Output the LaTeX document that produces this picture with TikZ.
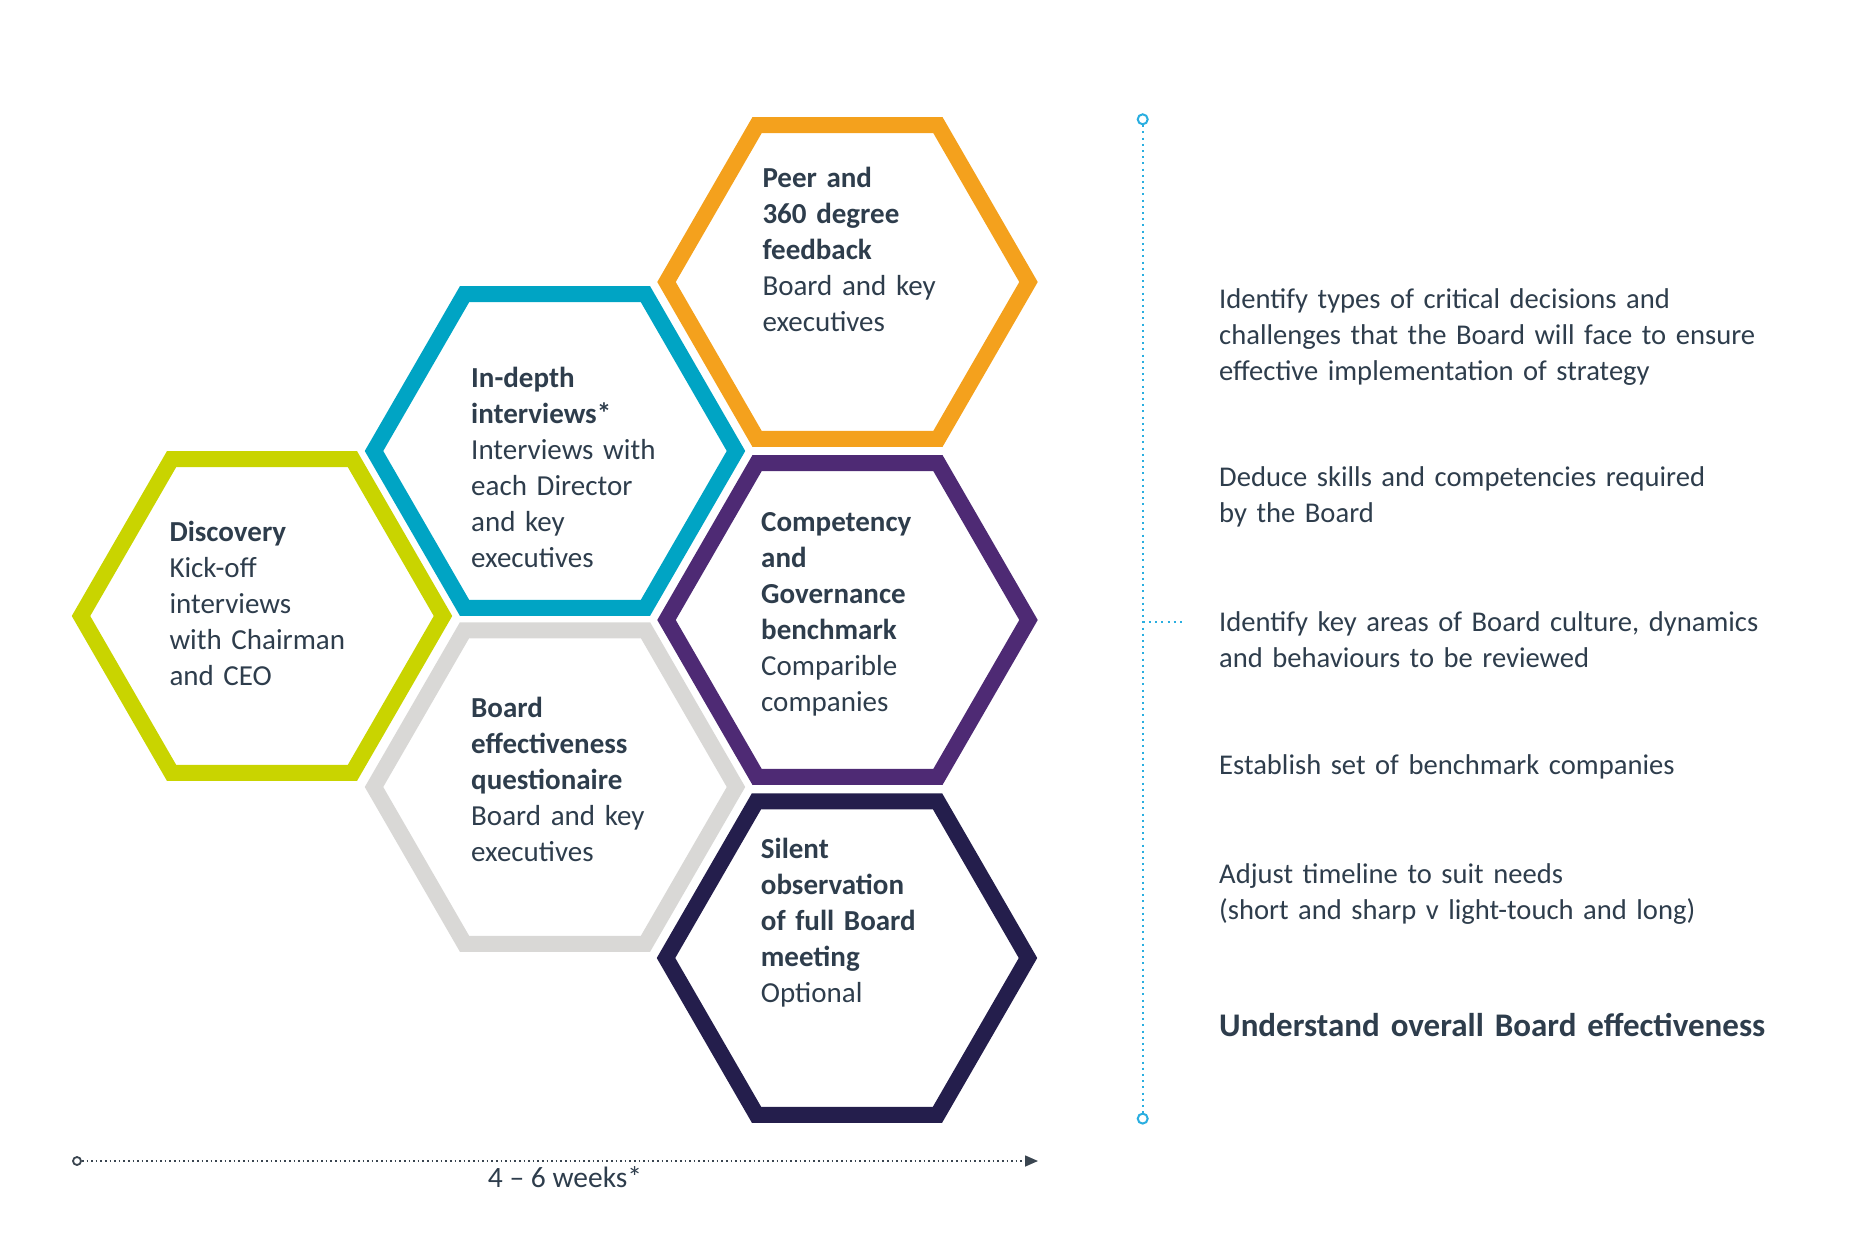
\documentclass[tikz,border=0pt]{standalone}
\usepackage{fontspec}
\setmainfont{Carlito}
\usetikzlibrary{shapes.geometric,arrows.meta}
\definecolor{cOrange}{HTML}{F4A11D}
\definecolor{cBlue}{HTML}{00A4C4}
\definecolor{cGreen}{HTML}{C9D400}
\definecolor{cGray}{HTML}{D9D8D6}
\definecolor{cPurple}{HTML}{4E2A74}
\definecolor{cNavy}{HTML}{241E4C}
\definecolor{cText}{HTML}{2E3D4C}
\definecolor{cCyan}{HTML}{2AAEE0}
\definecolor{cLine}{HTML}{3A4550}
\begin{document}
\begin{tikzpicture}[x=1pt,y=-1pt,
  hexa/.style={regular polygon, regular polygon sides=6, minimum size=362pt, inner sep=0pt, line width=16pt, draw=#1, miter limit=10},
  hextext/.style={anchor=base west, text width=330pt, align=left, inner sep=0pt, text=cText, font=\fontsize{29}{36}\selectfont},
  sidetext/.style={anchor=base west, text width=600pt, align=left, inner sep=0pt, text=cText, font=\fontsize{28.6}{36}\selectfont},
  endcirc/.style={circle, draw=#1, line width=2pt, inner sep=0pt, minimum size=10pt, fill=white}
]
\useasboundingbox (0,0) rectangle (1856,1238);

% hexagons
\node[hexa=cGreen]  (hGreen)  at (262,616) {};
\node[hexa=cBlue]   (hBlue)   at (555,451) {};
\node[hexa=cGray]   (hGray)   at (555,787) {};
\node[hexa=cOrange] (hOrange) at (847.5,282) {};
\node[hexa=cPurple] (hPurple) at (847.5,620) {};
\node[hexa=cNavy]   (hNavy)   at (847,958) {};

% hexagon texts
\node[hextext] (tOrange) at (762.3,187.3) {\textbf{Peer and}\\\textbf{360 degree}\\\textbf{feedback}\\Board and key\\executives};
\node[hextext] (tBlue) at (471,387.3) {\textbf{In-depth}\\\textbf{interviews*}\\Interviews with\\each Director\\and key\\executives};
\node[hextext] (tGreen) at (169.3,541.7) {\textbf{Discovery}\\Kick-off\\interviews\\with Chairman\\and CEO};
\node[hextext] (tPurple) at (761,531) {\textbf{Competency}\\\textbf{and}\\\textbf{Governance}\\\textbf{benchmark}\\Comparible\\companies};
\node[hextext] (tGray) at (471,717.3) {\textbf{Board}\\\textbf{effectiveness}\\\textbf{questionaire}\\Board and key\\executives};
\node[hextext] (tNavy) at (760.7,858.3) {\textbf{Silent}\\\textbf{observation}\\\textbf{of full Board}\\\textbf{meeting}\\Optional};

% vertical dotted line
\node[endcirc=cCyan] (vTop) at (1142.7,119.3) {};
\node[endcirc=cCyan] (vBot) at (1142.7,1118.6) {};
\coordinate (vMid) at (1142.7,622.3);
\coordinate (vBranch) at (1184,622.3);
\draw[cCyan, line width=2pt, dash pattern=on 2pt off 4.2pt] (vTop) -- (vBot);
\draw[cCyan, line width=2pt, dash pattern=on 2pt off 4.2pt] (vMid) -- (vBranch);

% side texts
\node[sidetext] (s1) at (1219,308.3) {Identify types of critical decisions and\\challenges that the Board will face to ensure\\effective implementation of strategy};
\node[sidetext] (s2) at (1219,486.7) {Deduce skills and competencies required\\by the Board};
\node[sidetext] (s3) at (1219,631.7) {Identify key areas of Board culture, dynamics\\and behaviours to be reviewed};
\node[sidetext] (s4) at (1219,774) {Establish set of benchmark companies};
\node[sidetext] (s5) at (1219,883.3) {Adjust timeline to suit needs\\(short and sharp v light-touch and long)};
\node[sidetext, font=\fontsize{33}{38}\selectfont\bfseries] (s6) at (1219,1036.7) {Understand overall Board effectiveness};

% timeline
\node[endcirc=cLine, minimum size=8pt, line width=1.8pt] (tlStart) at (77,1161) {};
\coordinate (tlEnd) at (1038,1161);
\draw[cLine, line width=1.6pt, dash pattern=on 1.6pt off 3pt, -{Triangle[length=13pt,width=11pt]}] (tlStart) -- (tlEnd);
\node[anchor=base, inner sep=0pt, text=cText, font=\fontsize{29.5}{34}\selectfont] (tlLabel) at (565,1187) {4 -- 6 weeks*};
\end{tikzpicture}
\end{document}
